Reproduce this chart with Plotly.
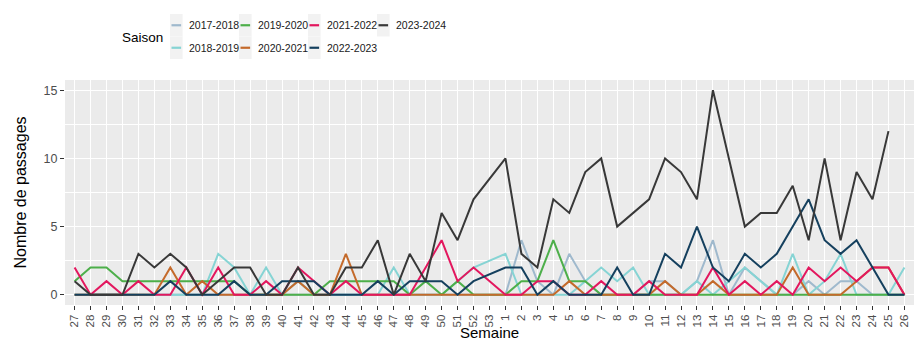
import plotly.graph_objects as go

# ---------------- data ----------------
weeks = [str(w) for w in list(range(27, 54)) + list(range(1, 27))]

seasons = ["2017-2018", "2018-2019", "2019-2020", "2020-2021",
           "2021-2022", "2022-2023", "2023-2024"]
colors = ["#9FB9CD", "#86D4D4", "#4DAF4A", "#C46A2B",
          "#E3175E", "#15405E", "#383838"]

N = None
s_2017_2018 = [0]*26 + [N] + [0, 4, 1, 0, 3, 1, 0, 0, 0, 1, 1, 0, 1, 4, 0, 2, 1, 0, 0, 1, 0, 1, 1, 0, 0, 0]
s_2018_2019 = [0, 0, 0, 0, 0, 0, 0, 0, 0, 3, 2, 0, 2, 0, 1, 0, 0, 0, 0, 0, 2, 0, 0, 0, 1, 2] + [N] + \
              [3, 0, 0, 0, 0, 1, 2, 1, 2, 0, 0, 0, 1, 0, 1, 2, 1, 0, 3, 0, 1, 3, 0, 0, 0, 2]
s_2019_2020 = [1, 2, 2, 1, 1, 1, 1, 1, 1, 1, 1, 0, 0, 0, 0, 0, 1, 1, 1, 1, 1, 0, 1, 0, 1, 0] + [N] + \
              [0, 1, 1, 4, 1, 1, 0] + [0]*19
s_2020_2021 = [0, 0, 0, 0, 0, 0, 2, 0, 1, 0, 0, 0, 0, 0, 1, 0, 0, 3, 0, 0, 0, 0, 0, 0, 0, 0, 0] + \
              [0, 0, 0, 0, 1, 0, 0, 0, 0, 0, 1, 0, 0, 1, 0, 0, 0, 0, 2, 0, 0, 0, 1, 2, 2, 0]
s_2021_2022 = [2, 0, 1, 0, 1, 0, 0, 2, 0, 2, 0, 0, 1, 0, 2, 1, 0, 1, 0, 0, 0, 0, 2, 4, 1, 2] + [N] + \
              [0, 0, 1, 1, 0, 0, 1, 0, 0, 1, 0, 0, 0, 2, 0, 1, 0, 1, 0, 2, 1, 2, 1, 2, 2, 0]
s_2022_2023 = [0, 0, 0, 0, 0, 0, 1, 0, 0, 0, 1, 0, 0, 1, 1, 1, 0, 0, 0, 1, 0, 1, 1, 1, 0, 1] + [N] + \
              [2, 2, 0, 1, 0, 0, 0, 2, 0, 0, 3, 2, 5, 2, 1, 3, 2, 3, 5, 7, 4, 3, 4, 2, 0, 0]
s_2023_2024 = [1, 0, 0, 0, 3, 2, 3, 2, 0, 1, 2, 2, 0, 0, 2, 0, 0, 2, 2, 4, 0, 3, 1, 6, 4, 7] + [N] + \
              [10, 3, 2, 7, 6, 9, 10, 5, 6, 7, 10, 9, 7, 15, 10, 5, 6, 6, 8, 4, 10, 4, 9, 7, 12, N]

series = [s_2017_2018, s_2018_2019, s_2019_2020, s_2020_2021,
          s_2021_2022, s_2022_2023, s_2023_2024]

y_ticks = [0, 5, 10, 15]

# ---------------- figure ----------------
W, H = 921, 340
ML, MR, MT, MB = 65, 7, 80, 35
PW, PH = W - ML - MR, H - MT - MB

fig = go.Figure()
for name, col, vals in zip(seasons, colors, series):
    fig.add_trace(go.Scatter(x=weeks, y=vals, mode="lines", name=name,
                             line=dict(color=col, width=2),
                             connectgaps=True, showlegend=False))

def px_x(p):
    return (p - ML) / PW

def px_y(p):
    return (H - MB - p) / PH

# manual ggplot-like legend
shapes = []
annotations = []
col_x0 = 170
col_step = 69
row_tops = [14, 36.5]
key_w, key_h = 12.6, 22.5
for k, (name, col) in enumerate(zip(seasons, colors)):
    c, r = k // 2, k % 2
    x0 = col_x0 + c * col_step
    y0 = row_tops[r]
    shapes.append(dict(type="rect", xref="paper", yref="paper",
                       x0=px_x(x0), x1=px_x(x0 + key_w),
                       y0=px_y(y0 + key_h), y1=px_y(y0),
                       fillcolor="#F2F2F2", line=dict(width=0), layer="below"))
    yc = y0 + key_h / 2
    shapes.append(dict(type="line", xref="paper", yref="paper",
                       x0=px_x(x0 + 1.5), x1=px_x(x0 + key_w - 1.5),
                       y0=px_y(yc), y1=px_y(yc),
                       line=dict(color=col, width=2.2), layer="above"))
    annotations.append(dict(text=name, xref="paper", yref="paper",
                            x=px_x(x0 + key_w + 4), y=px_y(yc),
                            xanchor="left", yanchor="middle", showarrow=False,
                            font=dict(family="Liberation Sans, Arial",
                                      size=10.5, color="#1A1A1A")))
annotations.append(dict(text="Saison", xref="paper", yref="paper",
                        x=px_x(col_x0 - 5), y=px_y(38), xanchor="right", yanchor="middle",
                        showarrow=False,
                        font=dict(family="Liberation Sans, Arial",
                                  size=13.5, color="#000000")))
# x-axis title, placed as low as possible while staying fully visible
annotations.append(dict(text="Semaine", xref="paper", yref="paper",
                        x=0.5, y=0, yanchor="top", xanchor="center", yshift=-17,
                        showarrow=False,
                        font=dict(family="Liberation Sans, Arial", size=15, color="#000000")))

fig.update_layout(
    width=W, height=H,
    margin=dict(l=ML, r=MR, t=MT, b=MB, autoexpand=False),
    paper_bgcolor="#FFFFFF",
    plot_bgcolor="#EBEBEB",
    font=dict(family="Liberation Sans, Arial, sans-serif", color="#000000"),
    shapes=shapes,
    annotations=annotations,
    showlegend=False,
)

fig.update_xaxes(
    type="category", categoryorder="array", categoryarray=weeks,
    range=[-0.6, len(weeks) - 1 + 0.6],
    tickangle=-90, tickfont=dict(size=11.5, color="#4D4D4D"),
    ticks="outside", ticklen=4, tickcolor="#333333", tickwidth=1,
    showgrid=True, gridcolor="#FFFFFF", gridwidth=1.1,
    zeroline=False, showline=False,
    automargin=False,
)
fig.update_yaxes(
    range=[-0.75, 15.75], tickvals=y_ticks, ticktext=[str(v) for v in y_ticks],
    tickfont=dict(size=12.5, color="#4D4D4D"),
    ticks="outside", ticklen=4, tickcolor="#333333", tickwidth=1,
    showgrid=True, gridcolor="#FFFFFF", gridwidth=1.2,
    minor=dict(tickvals=[2.5, 7.5, 12.5], showgrid=True, gridcolor="#FFFFFF", gridwidth=0.6, ticks=""),
    zeroline=False, showline=False,
    title=dict(text="Nombre de passages", font=dict(size=16, color="#000000"), standoff=12),
    automargin=False,
)

fig.write_html("out.html")
